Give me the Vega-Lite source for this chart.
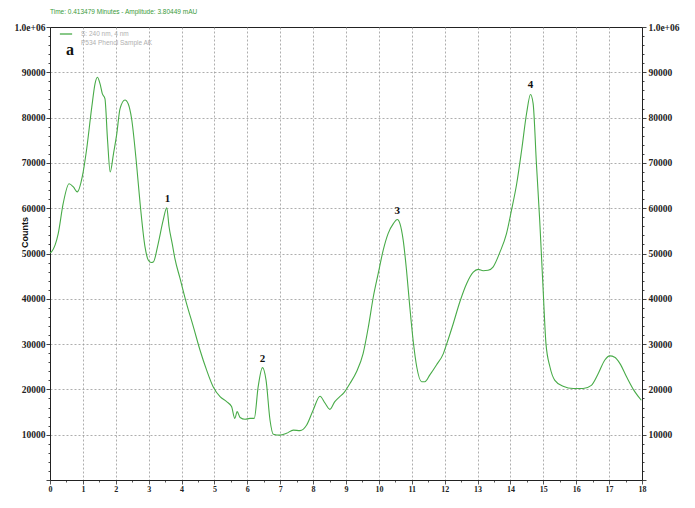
{
  "$schema": "https://vega.github.io/schema/vega-lite/v6.json",
  "width": 592,
  "height": 453,
  "autosize": {"type": "none"},
  "padding": {"left": 50, "top": 27, "right": 53, "bottom": 28},
  "background": "white",
  "config": {
    "view": {"stroke": "#222", "strokeWidth": 1},
    "font": "Liberation Serif"
  },
  "title": {
    "text": "Time:  0.413479 Minutes - Amplitude:  3.80449 mAU",
    "anchor": "start",
    "frame": "group",
    "fontSize": 6.5,
    "fontWeight": "normal",
    "font": "Liberation Sans",
    "color": "#3a9a3a",
    "offset": 7
  },
  "datasets": {
    "curve": [
      {"t": 0.00, "v": 50100}, {"t": 0.05, "v": 50400}, {"t": 0.25, "v": 54400}, {"t": 0.40, "v": 61000},
      {"t": 0.58, "v": 65400}, {"t": 0.71, "v": 64700}, {"t": 0.83, "v": 63600}, {"t": 0.98, "v": 66900},
      {"t": 1.11, "v": 72800}, {"t": 1.27, "v": 82300}, {"t": 1.37, "v": 87500}, {"t": 1.44, "v": 88900},
      {"t": 1.52, "v": 87500}, {"t": 1.59, "v": 85300}, {"t": 1.67, "v": 84200}, {"t": 1.75, "v": 75000},
      {"t": 1.83, "v": 68000}, {"t": 1.93, "v": 72000}, {"t": 2.03, "v": 76400}, {"t": 2.13, "v": 82000},
      {"t": 2.28, "v": 83900}, {"t": 2.38, "v": 83000}, {"t": 2.48, "v": 79800}, {"t": 2.63, "v": 69800},
      {"t": 2.74, "v": 61000}, {"t": 2.89, "v": 51400}, {"t": 2.99, "v": 48500}, {"t": 3.08, "v": 48000},
      {"t": 3.14, "v": 48100}, {"t": 3.29, "v": 52200}, {"t": 3.44, "v": 57300}, {"t": 3.55, "v": 60100},
      {"t": 3.62, "v": 55900}, {"t": 3.72, "v": 52000}, {"t": 3.80, "v": 48800}, {"t": 3.95, "v": 44600},
      {"t": 4.15, "v": 39000}, {"t": 4.36, "v": 33800}, {"t": 4.56, "v": 28700},
      {"t": 4.76, "v": 24300}, {"t": 4.96, "v": 20600}, {"t": 5.17, "v": 18400}, {"t": 5.37, "v": 17300},
      {"t": 5.52, "v": 16200}, {"t": 5.62, "v": 13600}, {"t": 5.69, "v": 15100}, {"t": 5.78, "v": 13800},
      {"t": 5.93, "v": 13400}, {"t": 6.08, "v": 13600}, {"t": 6.21, "v": 13600}, {"t": 6.33, "v": 20600},
      {"t": 6.46, "v": 24800}, {"t": 6.57, "v": 22000}, {"t": 6.69, "v": 13200}, {"t": 6.79, "v": 10100},
      {"t": 6.99, "v": 9900}, {"t": 7.19, "v": 10300}, {"t": 7.40, "v": 11000}, {"t": 7.60, "v": 10900},
      {"t": 7.80, "v": 12100}, {"t": 8.00, "v": 15400}, {"t": 8.21, "v": 18500}, {"t": 8.36, "v": 17000},
      {"t": 8.51, "v": 15600}, {"t": 8.66, "v": 17300}, {"t": 8.81, "v": 18400}, {"t": 8.92, "v": 19100},
      {"t": 9.12, "v": 21300}, {"t": 9.32, "v": 23900}, {"t": 9.52, "v": 27900}, {"t": 9.68, "v": 33800},
      {"t": 9.83, "v": 40400}, {"t": 9.98, "v": 45600}, {"t": 10.13, "v": 50700}, {"t": 10.28, "v": 54400},
      {"t": 10.44, "v": 56600}, {"t": 10.56, "v": 57500}, {"t": 10.64, "v": 56600}, {"t": 10.74, "v": 52900},
      {"t": 10.84, "v": 46300}, {"t": 10.94, "v": 38200}, {"t": 11.04, "v": 30900}, {"t": 11.15, "v": 25000},
      {"t": 11.30, "v": 21700}, {"t": 11.40, "v": 21700}, {"t": 11.55, "v": 23200}, {"t": 11.75, "v": 25400},
      {"t": 11.96, "v": 27900}, {"t": 12.06, "v": 30000}, {"t": 12.26, "v": 34500}, {"t": 12.46, "v": 39300},
      {"t": 12.67, "v": 43400}, {"t": 12.87, "v": 45900}, {"t": 13.02, "v": 46500}, {"t": 13.17, "v": 46200},
      {"t": 13.32, "v": 46300}, {"t": 13.47, "v": 47000}, {"t": 13.68, "v": 50300}, {"t": 13.88, "v": 54400},
      {"t": 14.03, "v": 59500}, {"t": 14.19, "v": 65400}, {"t": 14.34, "v": 72800}, {"t": 14.49, "v": 80900},
      {"t": 14.61, "v": 85100}, {"t": 14.69, "v": 83100}, {"t": 14.79, "v": 69800}, {"t": 14.89, "v": 57300},
      {"t": 14.99, "v": 42600}, {"t": 15.08, "v": 30100}, {"t": 15.20, "v": 25000}, {"t": 15.35, "v": 22000},
      {"t": 15.60, "v": 20700}, {"t": 15.91, "v": 20200}, {"t": 16.21, "v": 20200}, {"t": 16.46, "v": 20900},
      {"t": 16.67, "v": 23500}, {"t": 16.87, "v": 26500}, {"t": 17.02, "v": 27400}, {"t": 17.17, "v": 27100},
      {"t": 17.33, "v": 25700}, {"t": 17.53, "v": 22800}, {"t": 17.78, "v": 19500}, {"t": 17.98, "v": 17600}
    ],
    "peaks": [
      {"t": 3.57, "v": 60100, "label": "1"},
      {"t": 6.46, "v": 24800, "label": "2"},
      {"t": 10.56, "v": 57500, "label": "3"},
      {"t": 14.61, "v": 85100, "label": "4"},
      {"t": 0.61, "v": 92200, "label": "a"}
    ]
  },
  "layer": [
    {
      "data": {"name": "curve"},
      "mark": {"type": "line", "strokeWidth": 1.1, "interpolate": "monotone"},
      "encoding": {
        "x": {
          "field": "t", "type": "quantitative",
          "scale": {"domain": [0, 18], "nice": false, "zero": false},
          "axis": {
            "orient": "bottom",
            "title": null,
            "values": [0,0.5,1,1.5,2,2.5,3,3.5,4,4.5,5,5.5,6,6.5,7,7.5,8,8.5,9,9.5,10,10.5,11,11.5,12,12.5,13,13.5,14,14.5,15,15.5,16,16.5,17,17.5,18],
            "labelExpr": "datum.value % 1 === 0 ? format(datum.value, 'd') : ''",
            "labelFont": "Liberation Serif",
            "labelFontSize": 8,
            "labelFontWeight": "bold",
            "labelColor": "#222",
            "labelPadding": 1,
            "labelFlush": false,
            "labelOverlap": false,
            "tickColor": "#555",
            "tickSize": {"condition": {"test": "datum.value % 1 === 0", "value": 4}, "value": 2},
            "domainColor": "#222",
            "grid": true,
            "gridColor": "#999",
            "gridDash": [2, 2],
            "gridWidth": 0.8,
            "gridOpacity": {"condition": {"test": "datum.value % 1 === 0 && datum.value > 0 && datum.value < 18", "value": 1}, "value": 0}
          }
        },
        "y": {
          "field": "v", "type": "quantitative",
          "scale": {"domain": [0, 100000], "nice": false, "zero": false},
          "axis": {
            "orient": "left",
            "title": "Counts",
            "titleFont": "Liberation Sans",
            "titleFontSize": 9,
            "titleFontWeight": "bold",
            "titleColor": "#111",
            "titleAngle": -90,
            "titleX": -26,
            "titleY": 205,
            "titleBaseline": "middle",
            "titleAlign": "center",
            "values": [0,2000,4000,6000,8000,10000,12000,14000,16000,18000,20000,22000,24000,26000,28000,30000,32000,34000,36000,38000,40000,42000,44000,46000,48000,50000,52000,54000,56000,58000,60000,62000,64000,66000,68000,70000,72000,74000,76000,78000,80000,82000,84000,86000,88000,90000,92000,94000,96000,98000,100000],
            "labelExpr": "datum.value >= 100000 ? '1.0e+06' : (datum.value % 10000 === 0 && datum.value > 0 ? format(datum.value, 'd') : '')",
            "labelFont": "Liberation Serif",
            "labelFontSize": 9.5,
            "labelFontWeight": "bold",
            "labelColor": "#222",
            "labelPadding": 1,
            "labelFlush": false,
            "labelOverlap": false,
            "tickColor": "#444",
            "tickSize": {"condition": {"test": "datum.value % 10000 === 0", "value": 4}, "value": 2},
            "domainColor": "#222",
            "grid": true,
            "gridColor": "#999",
            "gridDash": [2, 2],
            "gridWidth": 0.8,
            "gridOpacity": {"condition": {"test": "datum.value % 10000 === 0 && datum.value > 0 && datum.value < 100000", "value": 1}, "value": 0}
          }
        },
        "color": {
          "datum": "S: 240 nm, 4 nm",
          "type": "nominal",
          "scale": {"range": ["#48ab48"]},
          "legend": {
            "title": null,
            "orient": "none",
            "legendX": 9,
            "legendY": 0,
            "symbolType": "stroke",
            "symbolSize": 150,
            "symbolStrokeWidth": 1.3,
            "labelExpr": "['S: 240 nm, 4 nm', 'P534 Phenol Sample AK']",
            "labelFont": "Liberation Sans",
            "labelFontSize": 6.5,
            "labelColor": "#b0b0b0",
            "labelOffset": 8
          }
        }
      }
    },
    {
      "data": {"name": "peaks"},
      "mark": {"type": "text", "font": "Liberation Serif", "fontWeight": "bold", "color": "#111", "baseline": "bottom", "dy": -4},
      "encoding": {
        "x": {
          "field": "t", "type": "quantitative",
          "axis": {"orient": "top", "title": null, "labels": false, "ticks": false, "domain": false, "grid": false}
        },
        "y": {
          "field": "v", "type": "quantitative",
          "axis": {
            "orient": "right",
            "title": null,
            "values": [0,2000,4000,6000,8000,10000,12000,14000,16000,18000,20000,22000,24000,26000,28000,30000,32000,34000,36000,38000,40000,42000,44000,46000,48000,50000,52000,54000,56000,58000,60000,62000,64000,66000,68000,70000,72000,74000,76000,78000,80000,82000,84000,86000,88000,90000,92000,94000,96000,98000,100000],
            "labelExpr": "datum.value >= 100000 ? '1.0e+06' : (datum.value % 10000 === 0 && datum.value > 0 ? format(datum.value, 'd') : '')",
            "labelFont": "Liberation Serif",
            "labelFontSize": 9.5,
            "labelFontWeight": "bold",
            "labelColor": "#222",
            "labelPadding": 2,
            "labelFlush": false,
            "labelOverlap": false,
            "tickColor": "#444",
            "tickSize": {"condition": {"test": "datum.value % 10000 === 0", "value": 4}, "value": 2},
            "domainColor": "#222",
            "grid": false
          }
        },
        "size": {"condition": {"test": "datum.label === 'a'", "value": 16}, "value": 11},
        "text": {"field": "label"}
      }
    }
  ],
  "resolve": {"axis": {"y": "independent", "x": "independent"}}
}
